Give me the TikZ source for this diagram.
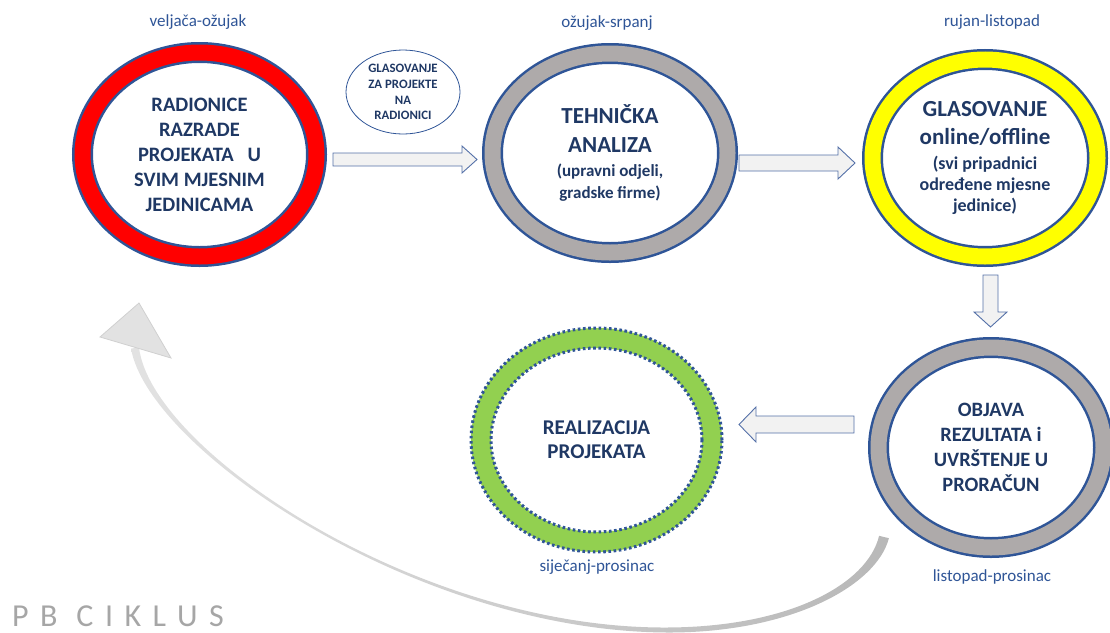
\documentclass[tikz,border=0pt]{standalone}
\usepackage{fontspec}
\setmainfont{Carlito}
\usetikzlibrary{shapes.geometric}
\definecolor{ringblue}{RGB}{47,85,151}
\definecolor{txtnavy}{RGB}{31,56,100}
\definecolor{lblblue}{RGB}{47,85,151}
\definecolor{ringred}{RGB}{255,0,0}
\definecolor{ringgray}{RGB}{174,170,170}
\definecolor{ringyellow}{RGB}{255,255,0}
\definecolor{ringgreen}{RGB}{146,208,80}
\definecolor{arrfill}{RGB}{242,242,242}
\definecolor{arrline}{RGB}{84,112,168}
\definecolor{pbgray}{RGB}{166,166,166}
\definecolor{curvelight}{RGB}{226,226,226}
\definecolor{curvedark}{RGB}{184,184,184}
\definecolor{headline}{RGB}{208,208,208}
\begin{document}
\begin{tikzpicture}[x=1pt,y=-1pt,
  ring/.style={ellipse, draw=ringblue, line width=2.5pt, double distance=16pt,
    inner sep=0pt, outer sep=0pt, align=center, text=txtnavy},
  lbl/.style={text=lblblue, font=\fontsize{17}{20}\selectfont, inner sep=0pt},
  blockarrow/.style={draw=arrline, fill=arrfill, line width=0.9pt, line join=miter},
  greendots/.style={ringblue, line width=3pt, dash pattern=on 2.6pt off 2.6pt},
]
\useasboundingbox (0,0) rectangle (1110,632);

% curved return arrow
\coordinate (cstart) at (884,537);
\coordinate (cend) at (139,303);
\shade[left color=curvelight, right color=curvedark]
  (888.9,538.2) .. controls (876.4,586.1) and (790,633) .. (667,632.5)
  .. controls (417,631.2) and (149,450.2) .. (131,348.6)
  -- (139,347.4) .. controls (151,449.8) and (417,628.8) .. (667,627.5)
  .. controls (790,627) and (867.6,583.9) .. (879.1,535.8) -- cycle;
\filldraw[fill=curvelight, draw=headline, line width=0.8pt]
  (cend) -- (100,337) -- (171,358) -- cycle;

% rings
\node[ring, double=ringred, minimum width=234pt, minimum height=204pt,
  font=\fontsize{20.5}{25}\selectfont\bfseries] (n1) at (199.5,154.5)
  {RADIONICE\\RAZRADE\\PROJEKATA\ \ \ U\\SVIM MJESNIM\\JEDINICAMA};

\node[ring, double=ringgray, minimum width=235pt, minimum height=199pt,
  font=\fontsize{17}{22}\selectfont\bfseries] (n2) at (610,153)
  {{\fontsize{23}{29}\selectfont TEHNIČKA}\\[7pt]{\fontsize{23}{29}\selectfont ANALIZA}\\[2pt](upravni odjeli,\\gradske firme)};

\node[ring, double=ringyellow, minimum width=225pt, minimum height=197pt,
  font=\fontsize{18}{21}\selectfont\bfseries] (n3) at (985,158)
  {{\fontsize{23}{28}\selectfont GLASOVANJE}\\[7pt]{\fontsize{23}{28}\selectfont online/offline}\\[4pt](svi pripadnici\\određene mjesne\\jedinice)};

\node[ring, double=ringgray, minimum width=225pt, minimum height=200pt,
  font=\fontsize{20.4}{25}\selectfont\bfseries] (n4) at (991,447.5)
  {OBJAVA\\REZULTATA i\\UVRŠTENJE U\\PRORAČUN};

\node[ellipse, draw=ringgreen, line width=20pt, inner sep=0pt, outer sep=0pt,
  minimum width=231pt, minimum height=204pt, align=center, text=txtnavy,
  font=\fontsize{21}{24}\selectfont\bfseries] (n5) at (596.5,440)
  {REALIZACIJA\\PROJEKATA};
\draw[greendots] (n5.center) ellipse [x radius=125.5pt, y radius=112pt];
\draw[greendots] (n5.center) ellipse [x radius=105.5pt, y radius=92pt];

% small vote ellipse
\node[ellipse, draw=ringblue, line width=0.8pt, minimum width=114pt,
  minimum height=84pt, inner sep=0pt, align=center, text=txtnavy,
  font=\fontsize{12.8}{15.7}\selectfont\bfseries] (vote) at (403,92)
  {GLASOVANJE\\ZA PROJEKTE\\NA\\RADIONICI};

% block arrows
\draw[blockarrow] (333,153) -- (462,153) -- (462,146) -- (477,159.5)
  -- (462,173) -- (462,166) -- (333,166) -- cycle;
\draw[blockarrow] (739,155) -- (838,155) -- (838,147) -- (855,163)
  -- (838,179) -- (838,171) -- (739,171) -- cycle;
\draw[blockarrow] (983,275) -- (998,275) -- (998,312) -- (1007,312)
  -- (990.5,327) -- (974,312) -- (983,312) -- cycle;
\draw[blockarrow] (854,416) -- (756,416) -- (756,407) -- (739,424.5)
  -- (756,442) -- (756,433) -- (854,433) -- cycle;

% period labels
\node[lbl] (l1) at (198,22) {veljača-ožujak};
\node[lbl] (l2) at (607,23) {ožujak-srpanj};
\node[lbl] (l3) at (992,22) {rujan-listopad};
\node[lbl] (l5) at (597,567) {siječanj-prosinac};
\node[lbl] (l4) at (992,577) {listopad-prosinac};

% title
\node[anchor=base west, text=pbgray, inner sep=0pt,
  font=\fontsize{32}{32}\selectfont\addfontfeatures{LetterSpace=36}]
  (pb) at (12,626) {PB CIKLUS};
\end{tikzpicture}
\end{document}
